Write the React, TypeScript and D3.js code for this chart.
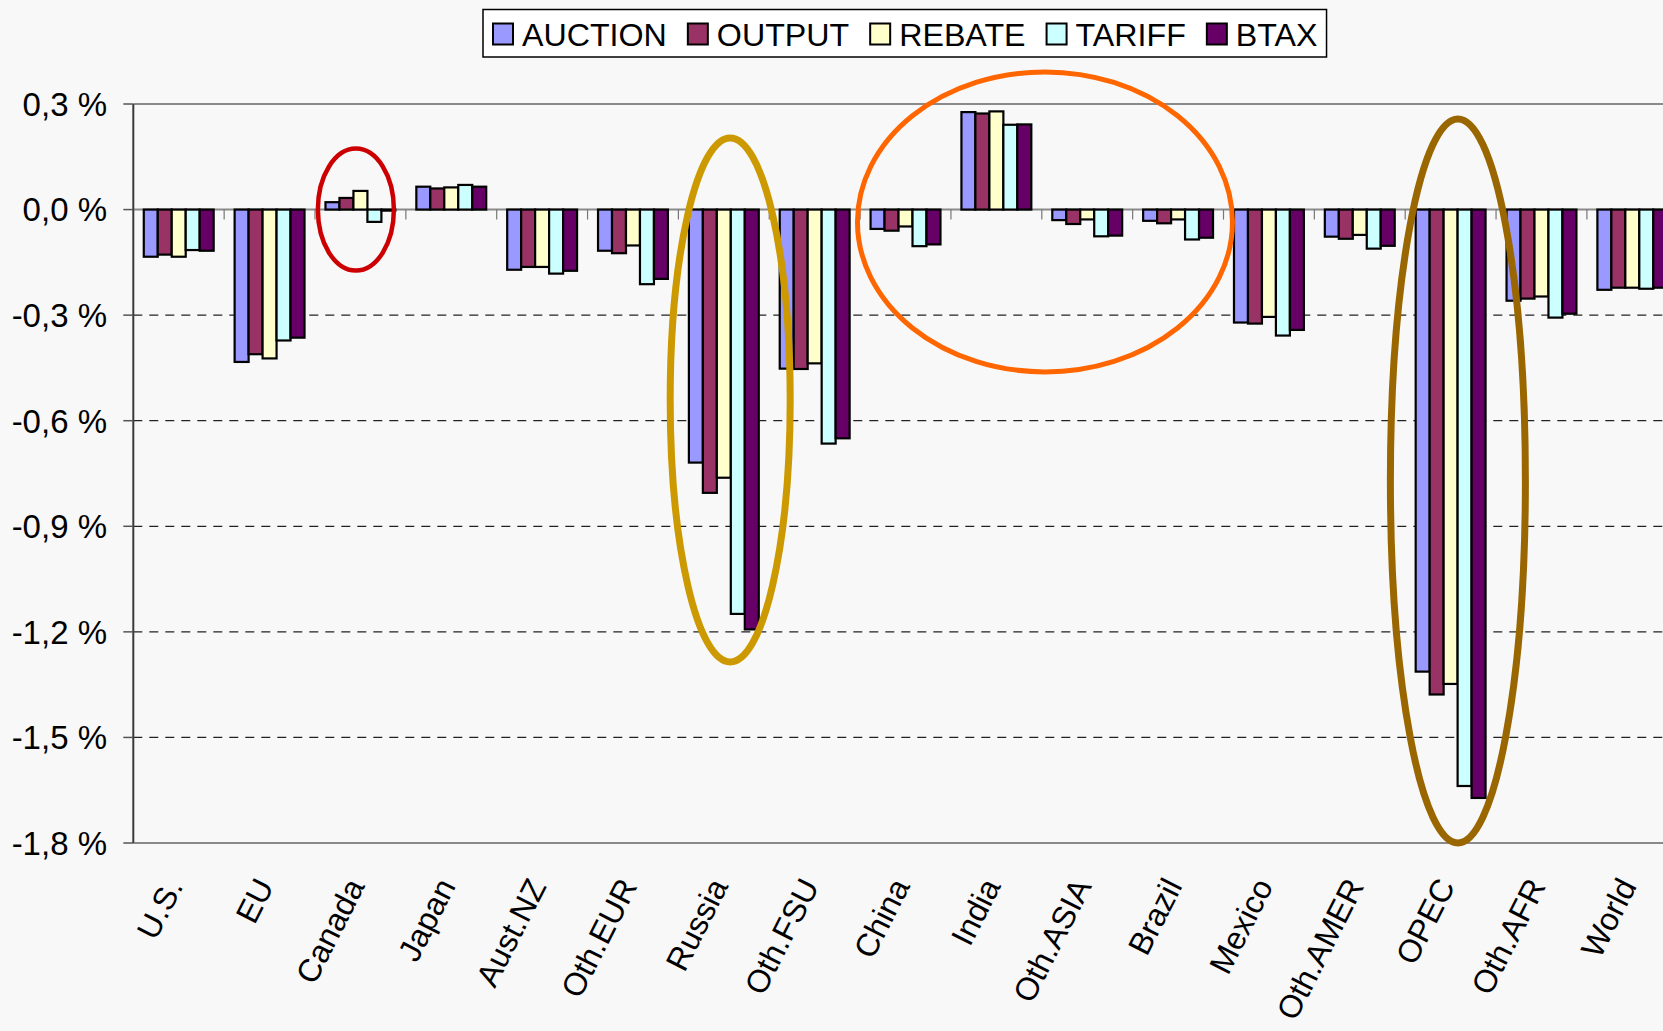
import React, { useEffect, useRef } from "react";
import * as d3 from "d3";

const categories = ["U.S.", "EU", "Canada", "Japan", "Aust.NZ", "Oth.EUR", "Russia", "Oth.FSU", "China", "India", "Oth.ASIA", "Brazil", "Mexico", "Oth.AMER", "OPEC", "Oth.AFR", "World"];
const seriesNames = ["AUCTION", "OUTPUT", "REBATE", "TARIFF", "BTAX"];
const seriesColors = ["#9999FF", "#993366", "#FFFFCC", "#CCFFFF", "#660066"];

const auction = [-0.134, -0.433, 0.021, 0.065, -0.171, -0.117, -0.719, -0.452, -0.055, 0.277, -0.030, -0.032, -0.321, -0.077, -1.313, -0.259, -0.228];
const output = [-0.128, -0.411, 0.033, 0.060, -0.163, -0.124, -0.805, -0.453, -0.060, 0.273, -0.041, -0.039, -0.324, -0.083, -1.378, -0.253, -0.222];
const rebate = [-0.134, -0.423, 0.053, 0.063, -0.163, -0.102, -0.762, -0.437, -0.048, 0.279, -0.028, -0.028, -0.305, -0.072, -1.348, -0.247, -0.222];
const tariff = [-0.115, -0.372, -0.035, 0.070, -0.182, -0.212, -1.149, -0.665, -0.104, 0.241, -0.076, -0.085, -0.358, -0.111, -1.638, -0.307, -0.225];
const btax = [-0.117, -0.364, -0.003, 0.065, -0.174, -0.197, -1.193, -0.650, -0.099, 0.242, -0.074, -0.080, -0.342, -0.103, -1.672, -0.296, -0.222];

const yTicks = [0.3, 0, -0.3, -0.6, -0.9, -1.2, -1.5, -1.8];
const yTickLabels = ["0,3 %", "0,0 %", "-0,3 %", "-0,6 %", "-0,9 %", "-1,2 %", "-1,5 %", "-1,8 %"];

// annotation ellipses: anchored to a category (shift in band steps) and a value
const annotations = [
  { category: "Canada", shift: -0.05, value: 0.0, rx: 38, ry: 61, color: "#CC0000", width: 4.5 },
  { category: "Russia", shift: 0.07, value: -0.541, rx: 60, ry: 262, color: "#CC9900", width: 7 },
  { category: "India", shift: 0.535, value: -0.035, rx: 187.5, ry: 150, color: "#FF6600", width: 5 },
  { category: "OPEC", shift: 0.08, value: -0.771, rx: 67.5, ry: 362, color: "#996600", width: 7 },
];

const W = 1663;
const H = 1031;
const FONT = "'Liberation Sans', Arial, Helvetica, sans-serif";

export default function App() {
  const ref = useRef<SVGSVGElement | null>(null);

  useEffect(() => {
    const svg = d3.select(ref.current);
    svg.selectAll("*").remove();

    const series = [auction, output, rebate, tariff, btax];

    svg.append("rect").attr("width", W).attr("height", H).attr("fill", "#F8F8F8");

    const x0 = 133.3;
    const step = 90.85;
    const x = d3
      .scaleBand<string>()
      .domain(categories)
      .range([x0, x0 + step * categories.length])
      .paddingInner(1.5 / 6.5)
      .paddingOuter(0.75 / 6.5);
    const xs = d3.scaleBand<string>().domain(seriesNames).range([0, x.bandwidth()]);
    const y = d3.scaleLinear().domain([-1.8, 0.3]).range([843, 104]);

    // gridlines
    const grid = svg.append("g");
    yTicks.forEach((t) => {
      const solid = t === 0.3 || t === -1.8 || t === 0;
      grid
        .append("line")
        .attr("x1", x0)
        .attr("x2", W)
        .attr("y1", y(t))
        .attr("y2", y(t))
        .attr("stroke", solid ? "#8a8a8a" : "#222")
        .attr("stroke-width", solid ? 2 : 1.2)
        .attr("stroke-dasharray", solid ? null : "9,7");
    });

    // category ticks
    for (let i = 1; i < categories.length; i++) {
      const bx = x0 + i * x.step();
      grid
        .append("line")
        .attr("x1", bx)
        .attr("x2", bx)
        .attr("y1", y(0))
        .attr("y2", y(0) + 10)
        .attr("stroke", "#777")
        .attr("stroke-width", 1.2);
    }

    // y axis
    grid
      .append("line")
      .attr("x1", x0)
      .attr("x2", x0)
      .attr("y1", y(0.3))
      .attr("y2", y(-1.8))
      .attr("stroke", "#3a3a3a")
      .attr("stroke-width", 2);
    yTicks.forEach((t, i) => {
      grid
        .append("line")
        .attr("x1", x0 - 10)
        .attr("x2", x0)
        .attr("y1", y(t))
        .attr("y2", y(t))
        .attr("stroke", "#555")
        .attr("stroke-width", 1.5);
      grid
        .append("text")
        .attr("x", 107)
        .attr("y", y(t))
        .attr("dy", "0.36em")
        .attr("text-anchor", "end")
        .attr("font-family", FONT)
        .attr("font-size", 33)
        .attr("fill", "#000")
        .text(yTickLabels[i]);
    });

    // bars
    const bars = svg.append("g");
    categories.forEach((c, ci) => {
      seriesNames.forEach((s, si) => {
        const v = series[si][ci];
        const yv = y(v);
        const y0 = y(0);
        bars
          .append("rect")
          .attr("x", (x(c) as number) + (xs(s) as number))
          .attr("y", Math.min(yv, y0))
          .attr("width", xs.bandwidth())
          .attr("height", Math.max(Math.abs(yv - y0), 0.5))
          .attr("fill", seriesColors[si])
          .attr("stroke", "#000")
          .attr("stroke-width", 2.2);
      });
    });

    // category labels
    const labels = svg.append("g");
    categories.forEach((c) => {
      const cx = (x(c) as number) + x.bandwidth() / 2 + 5;
      const cy = 886;
      labels
        .append("text")
        .attr("transform", `translate(${cx},${cy}) rotate(-63)`)
        .attr("text-anchor", "end")
        .attr("font-family", FONT)
        .attr("font-size", 32)
        .attr("fill", "#000")
        .text(c);
    });

    // annotations
    const ann = svg.append("g");
    annotations.forEach((a) => {
      ann
        .append("ellipse")
        .attr("cx", (x(a.category) as number) + x.bandwidth() / 2 + a.shift * x.step())
        .attr("cy", y(a.value))
        .attr("rx", a.rx)
        .attr("ry", a.ry)
        .attr("fill", "none")
        .attr("stroke", a.color)
        .attr("stroke-width", a.width);
    });

    // legend
    const lg = svg.append("g");
    const bx0 = 483;
    const box = lg
      .append("rect")
      .attr("x", bx0)
      .attr("y", 9.5)
      .attr("height", 47.5)
      .attr("fill", "#fff")
      .attr("stroke", "#000")
      .attr("stroke-width", 1.5);
    let cur = bx0 + 10;
    seriesNames.forEach((s, si) => {
      lg.append("rect")
        .attr("x", cur)
        .attr("y", 23.5)
        .attr("width", 20)
        .attr("height", 21)
        .attr("fill", seriesColors[si])
        .attr("stroke", "#000")
        .attr("stroke-width", 2);
      const t = lg
        .append("text")
        .attr("x", cur + 29)
        .attr("y", 45.5)
        .attr("font-family", FONT)
        .attr("font-size", 32.2)
        .attr("fill", "#000")
        .text(s);
      const w = (t.node() as SVGTextElement).getComputedTextLength();
      cur = cur + 29 + w + (si < seriesNames.length - 1 ? 21 : 9);
    });
    box.attr("width", cur - bx0);
  }, []);

  return (
    <div style={{ position: "fixed", left: 0, top: 0, width: W, height: H, overflow: "hidden" }}>
      <svg ref={ref} width={W} height={H} style={{ display: "block" }} />
    </div>
  );
}
